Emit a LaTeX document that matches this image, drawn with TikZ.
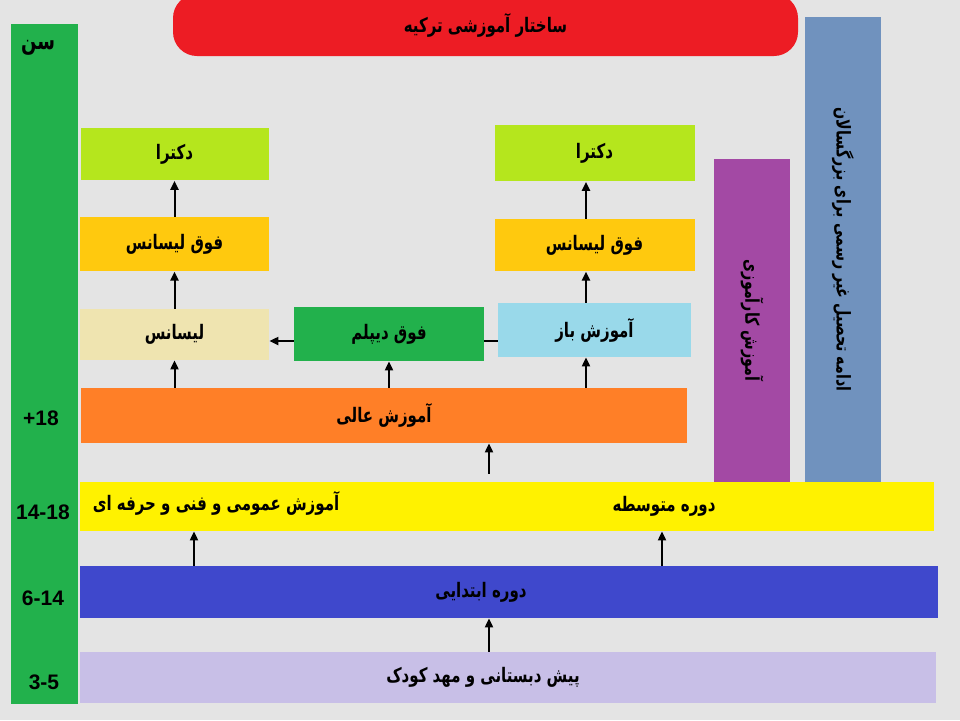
\documentclass[tikz,border=0pt]{standalone}
\usepackage{fontspec}
\setmainfont{Liberation Sans}
\newfontfamily\arabicfont[Script=Arabic, FakeStretch=0.75]{DejaVu Sans}
\TeXXeTstate=1
\usepackage{tikz}
\usetikzlibrary{arrows.meta, positioning}
\usepackage{xcolor}
\definecolor{bggray}{HTML}{E4E4E4}
\definecolor{titlered}{HTML}{ED1C24}
\definecolor{agegreen}{HTML}{22B14C}
\definecolor{docgreen}{HTML}{B5E61D}
\definecolor{msgold}{HTML}{FFC90E}
\definecolor{babeige}{HTML}{EFE4B0}
\definecolor{diplomgreen}{HTML}{22B14C}
\definecolor{openblue}{HTML}{99D9EA}
\definecolor{highorange}{HTML}{FF7F27}
\definecolor{secyellow}{HTML}{FFF200}
\definecolor{primblue}{HTML}{3F48CC}
\definecolor{prelav}{HTML}{C8BFE7}
\definecolor{vocpurple}{HTML}{A349A4}
\definecolor{adultblue}{HTML}{7092BE}
\newcommand{\fatext}[1]{{\arabicfont\bfseries\beginR #1\endR}}

\begin{document}
\begin{tikzpicture}[
    x=0.5pt, y=-0.5pt,
    level/.style={rectangle, fill=#1, inner sep=0pt, minimum width=94pt,
                  minimum height=26pt, font=\fontsize{10}{12}\selectfont},
    bar/.style={rectangle, fill=#1, inner sep=0pt, minimum height=38pt,
                rotate=-90, font=\fontsize{9.5}{11}\selectfont},
    arrow/.style={-{Triangle[length=4.5pt, width=4pt]}, line width=1pt},
    label/.style={font=\fontsize{10}{12}\selectfont},
    age/.style={font=\bfseries\fontsize{10.5}{12}\selectfont},
]

% Background
\useasboundingbox (0,0) rectangle (960,720);
\clip (0,0) rectangle (960,720);
\fill[bggray] (0,0) rectangle (960,720);

% Title
\node[level=titlered, minimum width=312.5pt, minimum height=31pt,
      rounded corners=12pt] (title) at (485.5,25) {\fatext{ساختار آموزشی ترکیه}};

% Age column
\node[level=agegreen, minimum width=33.5pt, minimum height=340pt] (agebar) at (44.5,364) {};
\node[font=\fontsize{12}{14}\selectfont] (agehead) at (38,48) {\fatext{سن}};
\node[age] (age18) at (41,418) {+18};
\node[age] (age14) at (43,512) {14-18};
\node[age] (age6) at (43,598) {6-14};
\node[age] (age3) at (44,682) {3-5};

% School levels
\node[level=prelav, minimum width=428pt, minimum height=25.5pt] (pre) at (508,677.5) {};
\node[label] (prelabel) at ([xshift=-12.5pt]pre.center) {\fatext{پیش دبستانی و مهد کودک}};
\node[level=primblue, minimum width=429pt] (prim) at (509,592) {};
\node[label] (primlabel) at ([xshift=-14pt]prim.center) {\fatext{دوره ابتدایی}};
\node[level=secyellow, minimum width=427pt, minimum height=24.5pt] (sec) at (507,506.5) {};
\node[label] (seclabel) at ([xshift=78.5pt]sec.center) {\fatext{دوره متوسطه}};
\node[label] (secgeneral) at ([xshift=-145.5pt, yshift=1.5pt]sec.center)
      {\fatext{آموزش عمومی و فنی و حرفه ای}};

% Higher education
\node[level=highorange, minimum width=303pt, minimum height=27.5pt] (high) at (384,415.5)
      {\fatext{آموزش عالی}};

% Left branch
\node[level=babeige, minimum width=94.5pt, minimum height=25.5pt] (ba1) at (174.5,334.5)
      {\fatext{لیسانس}};
\node[level=msgold, minimum width=94.5pt, minimum height=27pt, above=18.5pt of ba1] (ms1)
      {\fatext{فوق لیسانس}};
\node[level=docgreen, above=18pt of ms1] (doc1) {\fatext{دکترا}};

% Middle
\node[level=diplomgreen, minimum width=95pt, minimum height=27pt] (diplom) at (389,334)
      {\fatext{فوق دیپلم}};

% Right branch
\node[level=openblue, minimum width=96.5pt, minimum height=27pt] (open) at (594.5,330)
      {\fatext{آموزش باز}};
\node[level=msgold, minimum width=100pt, above=15.5pt of open] (ms2) {\fatext{فوق لیسانس}};
\node[level=docgreen, minimum width=100pt, minimum height=28pt, above=18.5pt of ms2] (doc2)
      {\fatext{دکترا}};

% Side bars
\node[bar=vocpurple, minimum width=161.5pt] (voc) at (752,320.5) {\fatext{آموزش کارآموزی}};
\node[bar=adultblue, minimum width=232.5pt] (adult) at (843,249.5)
      {\fatext{ادامه تحصیل غیر رسمی برای بزرگسالان}};

% Arrows
\coordinate (rcol) at (586,0);
\coordinate (mid) at (489,0);
\coordinate (lsec) at (194,0);
\coordinate (rsec) at (662,0);
\coordinate (link) at (0,341);

\draw[arrow] (mid |- pre.north) -- (mid |- prim.south);
\draw[arrow] (lsec |- prim.north) -- (lsec |- sec.south);
\draw[arrow] (rsec |- prim.north) -- (rsec |- sec.south);
\draw[arrow, shorten <=4pt] (mid |- sec.north) -- (mid |- high.south);

\draw[arrow] (ba1.south |- high.north) -- (ba1.south);
\draw[arrow] (diplom.south |- high.north) -- (diplom.south);
\draw[arrow] (rcol |- high.north) -- (rcol |- open.south);

\draw[arrow] (ba1.north) -- (ms1.south);
\draw[arrow] (ms1.north) -- (doc1.south);
\draw[arrow] (rcol |- open.north) -- (rcol |- ms2.south);
\draw[arrow] (rcol |- ms2.north) -- (rcol |- doc2.south);

\draw[line width=1pt] (open.west |- link) -- (diplom.east |- link);
\draw[arrow] (diplom.west |- link) -- (ba1.east |- link);

\end{tikzpicture}
\end{document}
